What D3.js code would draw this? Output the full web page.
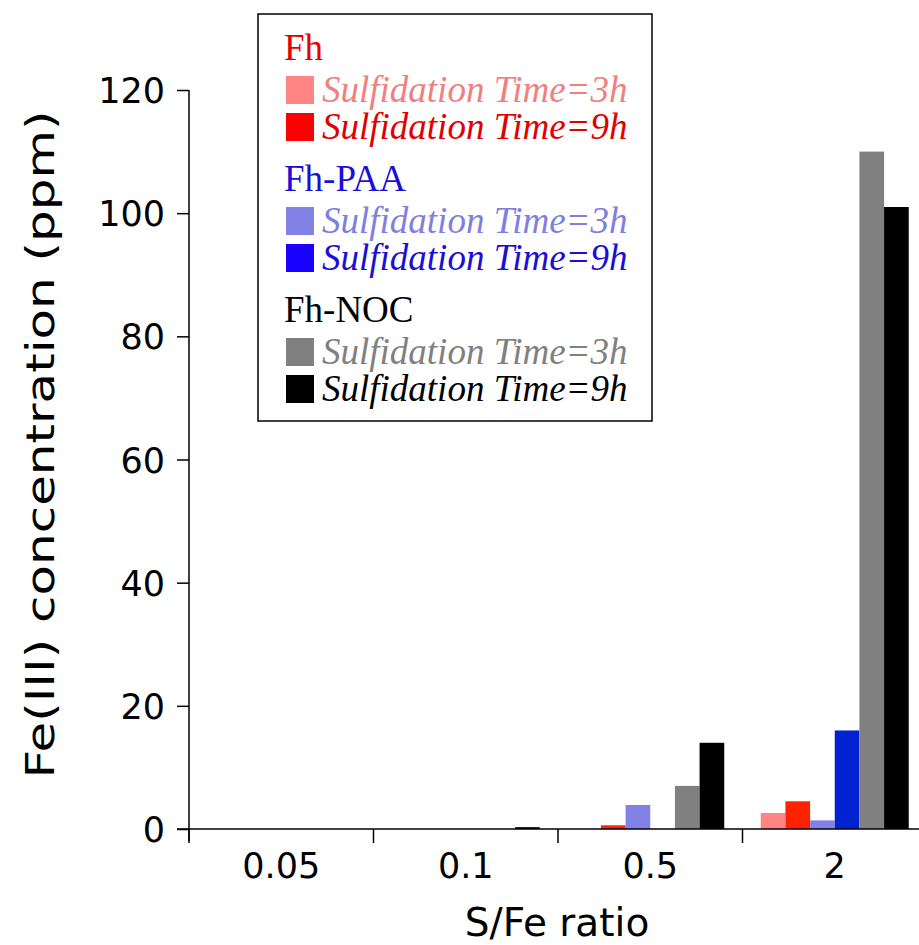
<!DOCTYPE html>
<html>
<head>
<meta charset="utf-8">
<script src="https://cdn.jsdelivr.net/npm/d3@7/dist/d3.min.js"></script>
<style>
  body { margin: 0; background: #fff; }
  svg { display: block; }
  .axis text { font-family: "DejaVu Sans", sans-serif; fill: #000; }
  .axis line, .axis path { stroke: #000; stroke-width: 1.5; }
</style>
</head>
<body>
<div id="chart"></div>
<script>
// S/Fe ratio categories
var ratios = ["0.05", "0.1", "0.5", "2"];

// Fe(III) concentration (ppm) per series, one value per ratio
var fh3h    = [0, 0, 0, 2.6];
var fh9h    = [0, 0, 0.6, 4.5];
var paa3h   = [0, 0, 3.9, 1.4];
var paa9h   = [0, 0, 0, 16];
var noc3h   = [0, 0, 7, 110];
var noc9h   = [0, 0.3, 14, 101];

var yTicks = [0, 20, 40, 60, 80, 100, 120];

var series = [
  {key: "fh3h",  values: fh3h,  color: "#ff8484"},
  {key: "fh9h",  values: fh9h,  color: "#ff2200"},
  {key: "paa3h", values: paa3h, color: "#8282e6"},
  {key: "paa9h", values: paa9h, color: "#0022d0"},
  {key: "noc3h", values: noc3h, color: "#808080"},
  {key: "noc9h", values: noc9h, color: "#000000"}
];

var legendGroups = [
  {title: "Fh",     color: "#e60000", rows: [
    {label: "Sulfidation Time=3h", swatch: "#ff8484", text: "#f08080"},
    {label: "Sulfidation Time=9h", swatch: "#ff0000", text: "#e00000"}]},
  {title: "Fh-PAA", color: "#1a0fd8", rows: [
    {label: "Sulfidation Time=3h", swatch: "#8282e6", text: "#7f7fe0"},
    {label: "Sulfidation Time=9h", swatch: "#1a00ff", text: "#1a0fd8"}]},
  {title: "Fh-NOC", color: "#000000", rows: [
    {label: "Sulfidation Time=3h", swatch: "#808080", text: "#808080"},
    {label: "Sulfidation Time=9h", swatch: "#000000", text: "#000000"}]}
];

var W = 919, H = 945;
var svg = d3.select("#chart").append("svg").attr("width", W).attr("height", H);

var x = d3.scaleBand().domain(ratios).range([189, 927]).padding(0);
var xs = d3.scaleBand().domain(series.map(function(s) { return s.key; }))
  .range([0, x.bandwidth()]).paddingInner(0).paddingOuter(0.74);
var y = d3.scaleLinear().domain([0, 120]).range([829, 90]);

// bars
series.forEach(function(s) {
  svg.append("g").selectAll("rect").data(s.values).enter().append("rect")
    .attr("x", function(d, i) { return x(ratios[i]) + xs(s.key); })
    .attr("y", function(d) { return y(d); })
    .attr("width", xs.bandwidth())
    .attr("height", function(d) { return y(0) - y(d); })
    .attr("fill", s.color);
});

// y axis
var yAxis = svg.append("g").attr("class", "axis").attr("transform", "translate(189,0)")
  .call(d3.axisLeft(y).tickValues(yTicks).tickSize(12).tickSizeOuter(0).tickPadding(12));
yAxis.select(".domain").remove();
yAxis.append("line").attr("x1", 0).attr("x2", 0).attr("y1", y(120)).attr("y2", y(0) + 12);
yAxis.selectAll("text").style("font-size", "35px").attr("dy", "0.36em");

// x axis: ticks at band boundaries
var xg = svg.append("g").attr("class", "axis");
xg.append("line").attr("x1", 177).attr("x2", W).attr("y1", y(0)).attr("y2", y(0));
xg.selectAll(".tk").data(ratios).enter().append("line")
  .attr("x1", function(d) { return x(d); }).attr("x2", function(d) { return x(d); })
  .attr("y1", y(0)).attr("y2", y(0) + 14);
xg.selectAll(".lb").data(ratios).enter().append("text")
  .attr("x", function(d) { return x(d) + x.bandwidth() / 2; })
  .attr("y", y(0) + 49)
  .attr("text-anchor", "middle").style("font-size", "35px")
  .text(function(d) { return d; });

// axis titles
svg.append("text")
  .attr("transform", "translate(54," + ((y(0) + y(120)) / 2 - 15) + ") rotate(-90)")
  .attr("text-anchor", "middle")
  .attr("textLength", 668).attr("lengthAdjust", "spacingAndGlyphs")
  .style("font-family", "DejaVu Sans, sans-serif").style("font-size", "39px")
  .text("Fe(III) concentration (ppm)");
svg.append("text")
  .attr("x", 557).attr("y", 936)
  .attr("text-anchor", "middle")
  .style("font-family", "DejaVu Sans, sans-serif").style("font-size", "39px")
  .text("S/Fe ratio");

// legend
var lg = svg.append("g").attr("transform", "translate(258,14)");
lg.append("rect").attr("width", 394).attr("height", 407)
  .attr("fill", "#fff").attr("stroke", "#000").attr("stroke-width", 1.5);
legendGroups.forEach(function(g, gi) {
  var gy = 33 + gi * 131;
  lg.append("text").attr("x", 26).attr("y", gy + 13)
    .style("font-family", "Liberation Serif, serif").style("font-size", "37px")
    .attr("fill", g.color).text(g.title);
  g.rows.forEach(function(r, ri) {
    var ry = gy + 43 + ri * 37;
    lg.append("rect").attr("x", 28).attr("y", ry - 14).attr("width", 28).attr("height", 28)
      .attr("fill", r.swatch);
    lg.append("text").attr("x", 64).attr("y", ry + 12)
      .style("font-family", "Liberation Serif, serif").style("font-size", "37px")
      .style("font-style", "italic").attr("fill", r.text).text(r.label);
  });
});
</script>
</body>
</html>
